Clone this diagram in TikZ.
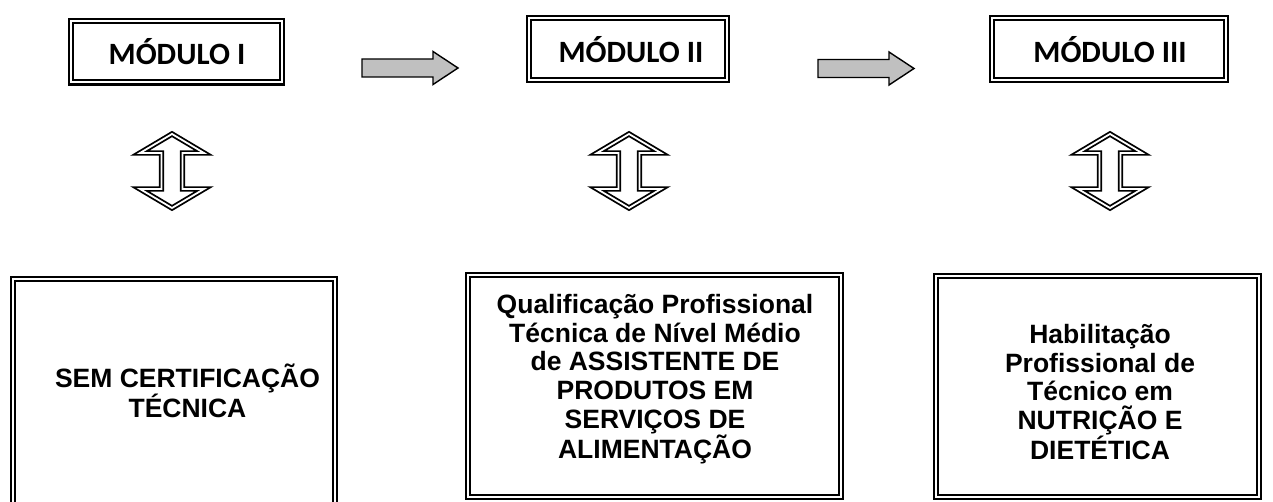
\documentclass[tikz,border=0pt]{standalone}
\usepackage{fontspec}
\setmainfont{Liberation Sans}
\newfontfamily\calib{Carlito}
\usetikzlibrary{positioning}

\definecolor{arrowgray}{RGB}{192,192,192}

\tikzset{
  dblbox/.style={draw=black, double=white, double distance=2pt, line width=2.2pt},
  dblarrow/.style={draw=black, double=white, double distance=1.8pt, line width=1.8pt, line join=miter},
  greyarrow/.style={draw=black, fill=arrowgray, line width=1.4pt, line join=miter},
  modtext/.style={font=\calib\bfseries\fontsize{31}{36}\selectfont, inner sep=0pt, anchor=base},
  certtext/.style={font=\bfseries\fontsize{26.5}{28.7}\selectfont, align=center, inner sep=0pt},
  updown/.pic={
    \draw[dblarrow] (0,-37) -- (32,-18) -- (10.5,-18) -- (10.5,18) -- (32,18) -- (0,37)
      -- (-32,18) -- (-10.5,18) -- (-10.5,-18) -- (-32,-18) -- cycle;
  },
  nextarrow/.pic={
    \draw[greyarrow] (0,-9) -- (71,-9) -- (71,-16.5) -- (96,0) -- (71,16.5) -- (71,9) -- (0,9) -- cycle;
  }
}

\begin{document}
\begin{tikzpicture}[x=1pt,y=-1pt]
\clip (0,0) rectangle (1273,502);
\fill[white] (0,0) rectangle (1273,502);

% modulos
\draw[dblbox] (71,21) rectangle (282,82.5);
\node[modtext] (mod1) at (177,65) {MÓDULO I};
\draw[dblbox] (529,18) rectangle (727,80);
\node[modtext] (mod2) at (631,63) {MÓDULO II};
\draw[dblbox] (992,18) rectangle (1226,80);
\node[modtext] (mod3) at (1110,63) {MÓDULO III};

% setas entre modulos
\pic (seta1) at (362,68) {nextarrow};
\pic (seta2) at (818,68.5) {nextarrow};

% setas duplas
\pic (dupla1) at (172,171) {updown};
\pic (dupla2) at (629,171) {updown};
\pic (dupla3) at (1110,171) {updown};

% certificacoes
\draw[dblbox] (13,279) rectangle (335,530);
\node[certtext] (cert1) at (187.5,391) {SEM CERTIFICAÇÃO\\TÉCNICA};

\draw[dblbox] (468,275) rectangle (841,497);
\node[certtext] (cert2) at (655,379) {Qualificação Profissional\\Técnica de Nível Médio\\de ASSISTENTE DE\\PRODUTOS EM\\SERVIÇOS DE\\ALIMENTAÇÃO};

\draw[dblbox] (936,276) rectangle (1259,497);
\node[certtext] (cert3) at (1100,392) {Habilitação\\Profissional de\\Técnico em\\NUTRIÇÃO E\\DIETÉTICA};
\end{tikzpicture}
\end{document}
